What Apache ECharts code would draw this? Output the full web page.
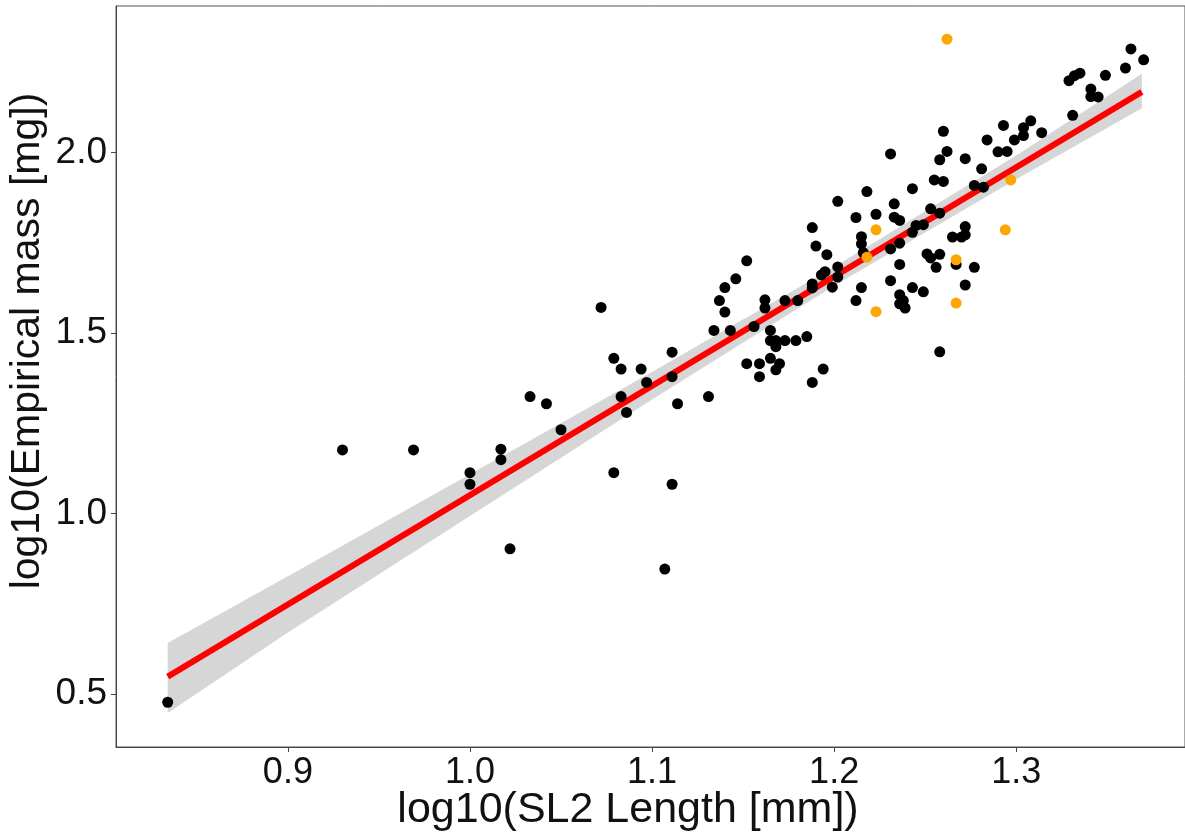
<!DOCTYPE html>
<html>
<head>
<meta charset="utf-8">
<script src="https://cdn.jsdelivr.net/npm/echarts@6/dist/echarts.min.js"></script>
<style>
  html, body { margin: 0; padding: 0; background: #fff; }
  #main { width: 1185px; height: 837px; }
</style>
</head>
<body>
<div id="main"></div>
<script>
// black points: log10 length / log10 mass
let blackX = [0.834, 0.930, 0.969, 1.000, 1.000, 1.017, 1.017, 1.022, 1.033, 1.042,
  1.050, 1.072, 1.079, 1.079, 1.083, 1.083, 1.086, 1.094, 1.097, 1.107,
  1.111, 1.111, 1.111, 1.114, 1.131, 1.134, 1.137, 1.140, 1.140, 1.143,
  1.146, 1.152, 1.152, 1.156, 1.159, 1.159, 1.162, 1.162, 1.165, 1.165,
  1.165, 1.168, 1.168, 1.168, 1.170, 1.173, 1.173, 1.180, 1.179, 1.185,
  1.188, 1.188, 1.188, 1.188, 1.190, 1.194, 1.193, 1.195, 1.196, 1.199,
  1.202, 1.202, 1.202, 1.212, 1.212, 1.215, 1.215, 1.216, 1.215, 1.218,
  1.223, 1.231, 1.231, 1.231, 1.233, 1.233, 1.236, 1.236, 1.236, 1.236,
  1.238, 1.236, 1.239, 1.243, 1.243, 1.245, 1.243, 1.249, 1.249, 1.251,
  1.253, 1.253, 1.255, 1.256, 1.258, 1.258, 1.258, 1.258, 1.260, 1.260,
  1.262, 1.265, 1.267, 1.270, 1.272, 1.272, 1.272, 1.272, 1.277, 1.277,
  1.281, 1.282, 1.284, 1.290, 1.293, 1.295, 1.299, 1.304, 1.304, 1.308,
  1.314, 1.329, 1.331, 1.332, 1.335, 1.341, 1.341, 1.345, 1.349, 1.360,
  1.363, 1.370];
let blackY = [0.477, 1.176, 1.176, 1.113, 1.081, 1.178, 1.149, 0.902, 1.324, 1.304,
  1.232, 1.571, 1.430, 1.113, 1.400, 1.324, 1.280, 1.400, 1.363, 0.846,
  1.447, 1.379, 1.081, 1.304, 1.324, 1.507, 1.590, 1.626, 1.558, 1.507,
  1.650, 1.700, 1.415, 1.518, 1.415, 1.379, 1.592, 1.569, 1.507, 1.479,
  1.430, 1.479, 1.462, 1.398, 1.415, 1.590, 1.479, 1.590, 1.479, 1.490,
  1.792, 1.636, 1.625, 1.363, 1.741, 1.400, 1.661, 1.670, 1.717, 1.627,
  1.865, 1.683, 1.655, 1.820, 1.590, 1.767, 1.747, 1.723, 1.626, 1.892,
  1.829, 1.996, 1.733, 1.645, 1.858, 1.821, 1.812, 1.749, 1.690, 1.606,
  1.590, 1.581, 1.569, 1.779, 1.900, 1.798, 1.626, 1.614, 1.800, 1.719,
  1.708, 1.844, 1.924, 1.682, 1.980, 1.832, 1.718, 1.448, 2.059, 1.920,
  2.003, 1.766, 1.690, 1.766, 1.983, 1.795, 1.772, 1.633, 1.909, 1.682,
  1.955, 1.904, 2.035, 2.002, 2.075, 2.003, 2.035, 2.069, 2.047, 2.088,
  2.055, 2.199, 2.103, 2.213, 2.220, 2.176, 2.155, 2.154, 2.214, 2.234,
  2.287, 2.257];

// orange points
let orangeX = [1.262, 1.297, 1.223, 1.294, 1.218, 1.267, 1.223, 1.267];
let orangeY = [2.314, 1.924, 1.786, 1.786, 1.710, 1.703, 1.559, 1.583];

// fitted line and its confidence band
let fitX = [0.834, 1.369];
let fitY = [0.548, 2.168];
let bandX = [0.834, 0.9, 1.0, 1.1, 1.2, 1.3, 1.369];
let bandLow = [0.447, 0.670, 0.993, 1.316, 1.631, 1.926, 2.123];
let bandHigh = [0.641, 0.826, 1.109, 1.392, 1.683, 1.992, 2.218];

let xTicks = [0.9, 1.0, 1.1, 1.2, 1.3];
let yTicks = [0.5, 1.0, 1.5, 2.0];

let myChart = echarts.init(document.getElementById('main'));

let toPairs = function (xs, ys) {
    let out = [];
    for (let i = 0; i < xs.length; i++) {
        out.push([xs[i], ys[i]]);
    }
    return out;
};

let fontFam = '"Liberation Sans", Arial, sans-serif';

let option = {
    animation: false,
    grid: {
        left: 116, top: 6, right: -2, bottom: 90,
        show: true, borderColor: '#555', borderWidth: 1, backgroundColor: '#fff'
    },
    xAxis: {
        type: 'value', min: 0.8056, max: 1.3927,
        splitLine: { show: false },
        axisLine: { lineStyle: { color: '#444', width: 1 } },
        axisTick: { customValues: xTicks, length: 5, lineStyle: { color: '#444' } },
        axisLabel: {
            customValues: xTicks, margin: 8, fontSize: 36, color: '#111', fontFamily: fontFam,
            formatter: function (v) { return v.toFixed(1); }
        }
    },
    yAxis: {
        type: 'value', min: 0.353, max: 2.406,
        splitLine: { show: false },
        axisLine: { show: true, lineStyle: { color: '#444', width: 1 } },
        axisTick: { show: true, customValues: yTicks, length: 5, lineStyle: { color: '#444' } },
        axisLabel: {
            customValues: yTicks, margin: 9, fontSize: 37, color: '#111', fontFamily: fontFam,
            formatter: function (v) { return v.toFixed(1); }
        }
    },
    graphic: [
        {
            type: 'text', x: 628, y: 810,
            style: { text: 'log10(SL2 Length [mm])', fontSize: 43, fill: '#111', fontFamily: fontFam,
                     align: 'center', verticalAlign: 'middle' }
        },
        {
            type: 'text', x: 28, y: 341, rotation: Math.PI / 2,
            style: { text: 'log10(Empirical mass [mg])', fontSize: 41, fill: '#111', fontFamily: fontFam,
                     align: 'center', verticalAlign: 'middle' }
        }
    ],
    series: [
        {
            type: 'custom',
            name: 'band',
            data: toPairs(bandX, bandLow),
            z: 1,
            renderItem: function (params, api) {
                if (params.dataIndex !== 0) return null;
                let pts = [];
                for (let i = 0; i < bandX.length; i++) pts.push(api.coord([bandX[i], bandHigh[i]]));
                for (let i = bandX.length - 1; i >= 0; i--) pts.push(api.coord([bandX[i], bandLow[i]]));
                return { type: 'polygon', shape: { points: pts }, style: { fill: '#d6d6d6' } };
            }
        },
        {
            type: 'line',
            name: 'fit',
            data: toPairs(fitX, fitY),
            showSymbol: false,
            z: 2,
            lineStyle: { color: '#ff0000', width: 6 }
        },
        {
            type: 'scatter',
            name: 'black',
            data: toPairs(blackX, blackY),
            symbolSize: 11,
            z: 3,
            itemStyle: { color: '#000', opacity: 1 }
        },
        {
            type: 'scatter',
            name: 'orange',
            data: toPairs(orangeX, orangeY),
            symbolSize: 11,
            z: 4,
            itemStyle: { color: '#ffa500', opacity: 1 }
        }
    ]
};

myChart.setOption(option);
</script>
</body>
</html>
